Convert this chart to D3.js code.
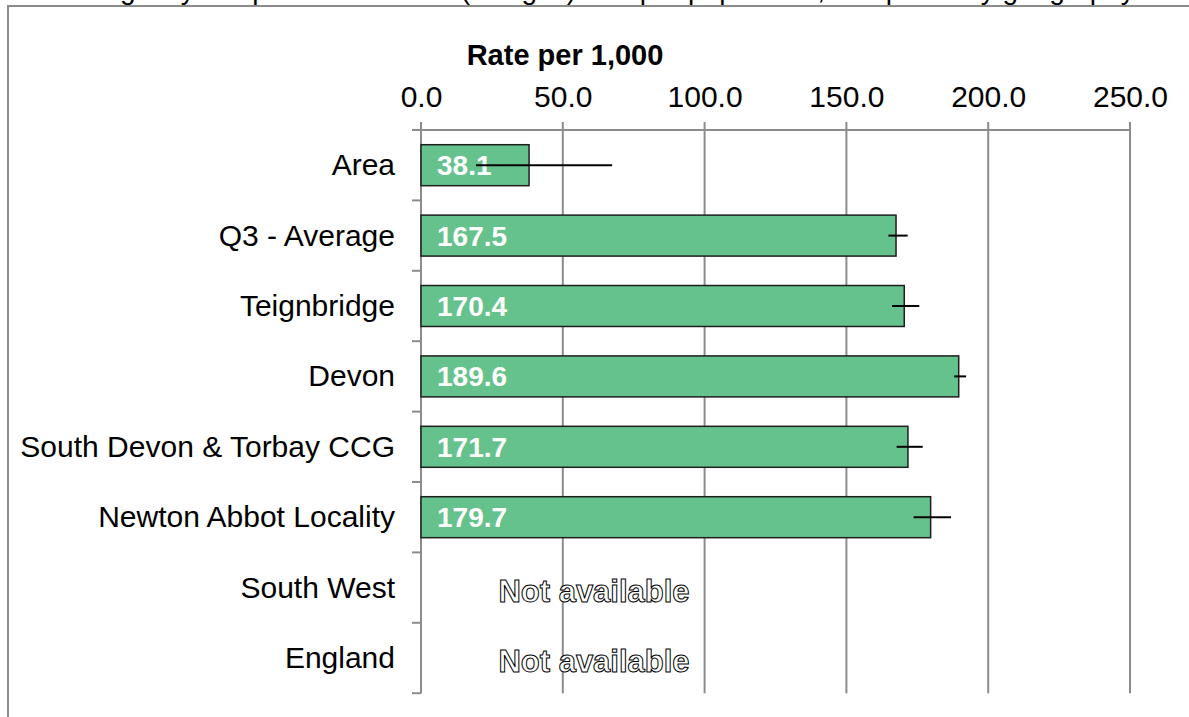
<!DOCTYPE html>
<html>
<head>
<meta charset="utf-8">
<script src="https://cdn.jsdelivr.net/npm/d3@7"></script>
<style>
  html, body { margin: 0; padding: 0; background: #fff; }
  svg { display: block; font-family: Arial, "Liberation Sans", sans-serif; }
</style>
</head>
<body>
<svg id="chart" width="1189" height="717"></svg>
<script>
const titleText = "Emergency Hospital Admissions (all ages) rate per population, compared by geography";
const axisTitle = "Rate per 1,000";
const categories = ["Area", "Q3 - Average", "Teignbridge", "Devon", "South Devon & Torbay CCG", "Newton Abbot Locality", "South West", "England"];
const values = [38.1, 167.5, 170.4, 189.6, 171.7, 179.7, null, null];
const lowerCI = [19.4, 164.8, 166.1, 188.0, 167.7, 173.7, null, null];
const upperCI = [67.4, 171.6, 175.7, 192.2, 176.9, 186.9, null, null];
const tickValues = [0, 50, 100, 150, 200, 250];
const missingLabel = "Not available";

(function () {
const svg = d3.select("#chart");
const W = 1189, H = 717;
const pLeft = 421, pRight = 1130, pTop = 130, pBottom = 693.2;

const x = d3.scaleLinear().domain([0, 250]).range([pLeft, pRight]);
const y = d3.scaleBand().domain(categories).range([pTop, pBottom]).paddingInner(0.418).paddingOuter(0.209);

const rows = categories.map((c, i) => ({ c, v: values[i], lo: lowerCI[i], hi: upperCI[i] }));

// outer frame
svg.append("rect").attr("x", 8).attr("y", 6).attr("width", W + 20).attr("height", H + 20)
  .attr("fill", "none").attr("stroke", "#8c8c8c").attr("stroke-width", 2);

// title (cut by the top edge, as in the reference)
svg.append("text").attr("x", 594).attr("y", -1).attr("text-anchor", "middle")
  .attr("font-size", 28).attr("fill", "#000").text(titleText);

// gridlines
svg.append("g").selectAll("line").data(tickValues).join("line")
  .attr("x1", d => x(d)).attr("x2", d => x(d))
  .attr("y1", pTop - 8).attr("y2", pBottom)
  .attr("stroke", "#8c8c8c").attr("stroke-width", 2);

// top value axis line
svg.append("line").attr("x1", pLeft).attr("x2", pRight).attr("y1", pTop).attr("y2", pTop)
  .attr("stroke", "#8c8c8c").attr("stroke-width", 2);

// top axis labels
const xAxis = d3.axisTop(x).tickValues(tickValues).tickFormat(d3.format(".1f")).tickSize(0).tickPadding(0);
const gx = svg.append("g").attr("transform", "translate(0,107)").call(xAxis);
gx.select(".domain").remove();
gx.selectAll("text").attr("font-size", 30).attr("fill", "#000")
  .attr("font-family", "Arial, 'Liberation Sans', sans-serif").attr("dy", 0);

// axis title
svg.append("text").attr("x", 565).attr("y", 65).attr("text-anchor", "middle")
  .attr("font-size", 29).attr("font-weight", "bold").attr("fill", "#000").text(axisTitle);

// category axis
svg.append("line").attr("x1", pLeft).attr("x2", pLeft).attr("y1", pTop).attr("y2", pBottom)
  .attr("stroke", "#8c8c8c").attr("stroke-width", 2);
const step = y.step();
const boundaries = d3.range(categories.length + 1).map(i => pTop + i * step);
svg.append("g").selectAll("line").data(boundaries).join("line")
  .attr("x1", pLeft - 9).attr("x2", pLeft).attr("y1", d => d).attr("y2", d => d)
  .attr("stroke", "#8c8c8c").attr("stroke-width", 2);

svg.append("g").selectAll("text").data(rows).join("text")
  .attr("x", 395).attr("y", d => y(d.c) + y.bandwidth() / 2 + 10)
  .attr("text-anchor", "end").attr("font-size", 30).attr("fill", "#000")
  .text(d => d.c);

// bars
const barRows = rows.filter(d => d.v != null);
svg.append("g").selectAll("rect").data(barRows).join("rect")
  .attr("x", x(0)).attr("y", d => y(d.c))
  .attr("width", d => x(d.v) - x(0)).attr("height", y.bandwidth())
  .attr("fill", "#66c28c").attr("stroke", "#1e1e1e").attr("stroke-width", 1.5);

// value labels
svg.append("g").selectAll("text").data(barRows).join("text")
  .attr("x", x(0) + 16).attr("y", d => y(d.c) + y.bandwidth() / 2 + 10)
  .attr("font-size", 28).attr("font-weight", "bold").attr("fill", "#fff")
  .text(d => d3.format(".1f")(d.v));

// error bars
svg.append("g").selectAll("line").data(barRows).join("line")
  .attr("x1", d => x(d.lo)).attr("x2", d => x(d.hi))
  .attr("y1", d => y(d.c) + y.bandwidth() / 2).attr("y2", d => y(d.c) + y.bandwidth() / 2)
  .attr("stroke", "#000").attr("stroke-width", 2);

// not available labels
svg.append("g").selectAll("text").data(rows.filter(d => d.v == null)).join("text")
  .attr("x", 594).attr("y", d => y(d.c) + y.bandwidth() / 2 + 14)
  .attr("text-anchor", "middle").attr("font-size", 31).attr("font-weight", "bold")
  .attr("fill", "#fff").attr("stroke", "#000").attr("stroke-width", 1)
  .text(missingLabel);
})();
</script>
</body>
</html>
